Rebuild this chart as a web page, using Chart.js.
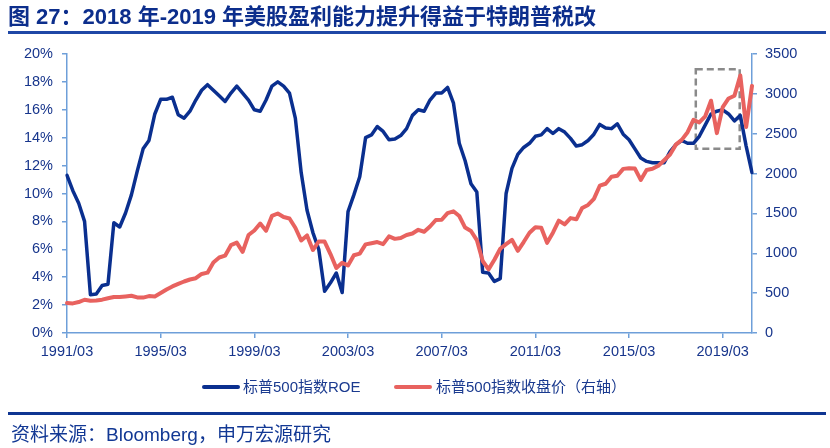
<!DOCTYPE html>
<html>
<head>
<meta charset="utf-8">
<script src="https://cdn.jsdelivr.net/npm/chart.js@4/dist/chart.umd.min.js"></script>
<style>
  html, body { margin: 0; padding: 0; background: #fff; }
  #wrap { position: relative; width: 830px; height: 448px; overflow: hidden; }
  #myChart { position: absolute; left: 0; top: 0; }
  .txt { position: absolute; white-space: nowrap; font-family: "Liberation Sans", "Noto Sans CJK SC", sans-serif; }
  #title { left: 8px; top: 2px; font-size: 22px; font-weight: 700; color: #0c2e8c; line-height: 30px; }
  .rule { position: absolute; left: 8px; width: 818px; }
  #topRule { top: 31px; height: 3px; background: #1f47a6; }
  #botRule { top: 412px; height: 3px; background: #0f3592; }
  #source { left: 11px; top: 422px; font-size: 19px; color: #123894; line-height: 26px; }
  .sw { position: absolute; height: 4px; border-radius: 2px; }
  .leg { top: 376px; font-size: 15px; color: #1a3a8f; line-height: 22px; }
</style>
</head>
<body>
<div id="wrap">
  <canvas id="myChart" width="830" height="448"></canvas>
  <div id="title" class="txt">图 27：2018 年-2019 年美股盈利能力提升得益于特朗普税改</div>
  <div id="topRule" class="rule"></div>
  <div class="sw" style="left:202px; top:385px; width:38px; background:#0a2f8f;"></div>
  <div class="txt leg" style="left:243px;">标普500指数ROE</div>
  <div class="sw" style="left:394px; top:385px; width:38px; background:#e8625f;"></div>
  <div class="txt leg" style="left:436px;">标普500指数收盘价（右轴）</div>
  <div id="botRule" class="rule"></div>
  <div id="source" class="txt">资料来源：Bloomberg，申万宏源研究</div>
</div>
<script>
// quarter ends, 1991/03 .. 2020/06
const quarters = []
for (let y = 1991; y <= 2020; y++) {
  ['03', '06', '09', '12'].forEach(m => {
    if (y == 2020 && (m == '09' || m == '12')) return
    quarters.push(y + '/' + m)
  })
}

const tickLabels = ['1991/03', '1995/03', '1999/03', '2003/03', '2007/03', '2011/03', '2015/03', '2019/03']

// 标普500指数ROE (%)
const roe = [
  11.3, 10.2, 9.3, 8.0, 2.75, 2.8, 3.4, 3.5,
  7.9, 7.6, 8.6, 9.9, 11.6, 13.2, 13.8, 15.7,
  16.75, 16.75, 16.9, 15.65, 15.4, 15.9, 16.7, 17.4,
  17.8, 17.4, 17.0, 16.6, 17.2, 17.7, 17.2, 16.7,
  16.0, 15.9, 16.7, 17.7, 18.0, 17.7, 17.2, 15.4,
  11.5, 8.8, 7.2, 6.0, 3.0, 3.6, 4.3, 2.9,
  8.7, 9.9, 11.2, 14.0, 14.2, 14.8, 14.45, 13.85,
  13.9, 14.15, 14.65, 15.6, 16.0, 15.9, 16.7, 17.2,
  17.2, 17.6, 16.5, 13.6, 12.35, 10.7, 10.1, 4.35,
  4.3, 3.7, 3.9, 10.0, 11.8, 12.8, 13.3, 13.6,
  14.1, 14.2, 14.65, 14.3, 14.65, 14.4, 13.95, 13.4,
  13.5, 13.8, 14.25, 14.95, 14.7, 14.65, 15.0, 14.25,
  13.85, 13.2, 12.55, 12.3, 12.2, 12.2, 12.2, 13.0,
  13.5, 13.8, 13.6, 13.6, 14.1, 14.9, 15.7, 15.9,
  16.0, 15.7, 15.2, 15.6, 13.4, 11.5
]

// 标普500指数收盘价（右轴）
const closePrice = [
  375, 371, 388, 417, 404, 408, 418, 436,
  452, 451, 459, 467, 446, 444, 463, 459,
  501, 545, 584, 616, 646, 671, 687, 741,
  757, 885, 947, 970, 1102, 1134, 1017, 1229,
  1286, 1373, 1283, 1469, 1499, 1455, 1437, 1320,
  1160, 1224, 1041, 1148, 1147, 990, 815, 880,
  848, 975, 996, 1112, 1126, 1141, 1115, 1212,
  1181, 1191, 1229, 1248, 1295, 1270, 1336, 1418,
  1421, 1503, 1527, 1468, 1323, 1280, 1166, 903,
  798, 919, 1057, 1115, 1169, 1031, 1141, 1258,
  1326, 1321, 1131, 1258, 1409, 1362, 1441, 1426,
  1569, 1606, 1682, 1848, 1872, 1960, 1972, 2059,
  2068, 2063, 1920, 2044, 2060, 2099, 2168, 2239,
  2363, 2423, 2519, 2674, 2641, 2718, 2914, 2507,
  2834, 2942, 2977, 3231, 2585, 3100
]

// dashed highlight round 2018-2019 (category index, right-axis value)
const boxFrom = 107.4, boxTo = 114.9, boxLow = 2310, boxHigh = 3310

const axisColor = '#6e9fd9'
const labelColor = '#17358c'
const tickFont = { family: 'Liberation Sans', size: 14.5 }

const dashBox = {
  id: 'dashBox',
  beforeDatasetsDraw(chart) {
    const { ctx, scales: { x, y1 } } = chart
    const l = x.getPixelForValue(boxFrom), r = x.getPixelForValue(boxTo)
    const t = y1.getPixelForValue(boxHigh), b = y1.getPixelForValue(boxLow)
    ctx.save()
    ctx.strokeStyle = '#8a8a8a'
    ctx.lineWidth = 2.5
    ctx.setLineDash([7, 4])
    ctx.strokeRect(l, t, r - l, b - t)
    ctx.restore()
  }
}

const ctx = document.getElementById('myChart')

new Chart(ctx, {
  type: 'line',
  data: {
    labels: quarters,
    datasets: [{
      label: '标普500指数收盘价（右轴）',
      data: closePrice,
      yAxisID: 'y1',
      borderColor: '#e8625f',
      borderWidth: 4,
      order: 0
    }, {
      label: '标普500指数ROE',
      data: roe,
      yAxisID: 'y',
      borderColor: '#0a2f8f',
      borderWidth: 3.5,
      order: 1
    }]
  },
  options: {
    responsive: false,
    animation: false,
    events: [],
    elements: {
      point: { radius: 0 },
      line: { tension: 0, borderJoinStyle: 'round', borderCapStyle: 'round' }
    },
    layout: { padding: { left: 0, right: 0, top: 54, bottom: 85 } },
    plugins: {
      legend: { display: false },
      tooltip: { enabled: false }
    },
    scales: {
      x: {
        type: 'category',
        offset: false,
        afterBuildTicks: axis => {
          axis.ticks = axis.ticks.filter(t => tickLabels.includes(quarters[t.value]))
        },
        afterFit: axis => { axis.height = 30 },
        grid: { drawOnChartArea: false, color: axisColor, tickLength: 5, lineWidth: 1.5 },
        border: { color: axisColor, width: 1.5 },
        ticks: {
          autoSkip: false,
          maxRotation: 0,
          padding: 5,
          color: labelColor,
          font: tickFont,
          callback: function (v) { return quarters[v] }
        }
      },
      y: {
        position: 'left',
        min: 0,
        max: 20,
        afterFit: axis => { axis.width = 67 },
        grid: { drawOnChartArea: false, color: axisColor, tickLength: 5, lineWidth: 1.5 },
        border: { color: axisColor, width: 1.5 },
        ticks: {
          stepSize: 2,
          padding: 9,
          color: labelColor,
          font: tickFont,
          callback: v => v + '%'
        }
      },
      y1: {
        position: 'right',
        min: 0,
        max: 3500,
        afterFit: axis => { axis.width = 78 },
        grid: { drawOnChartArea: false, color: axisColor, tickLength: 5, lineWidth: 1.5 },
        border: { color: axisColor, width: 1.5 },
        ticks: {
          stepSize: 500,
          padding: 8,
          color: labelColor,
          font: tickFont,
          callback: v => String(v)
        }
      }
    }
  },
  plugins: [dashBox]
});
</script>
</body>
</html>
